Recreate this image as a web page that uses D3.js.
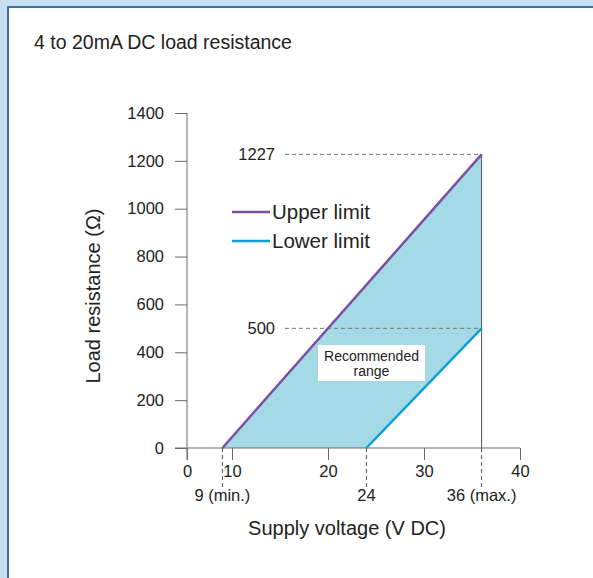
<!DOCTYPE html>
<html>
<head>
<meta charset="utf-8">
<script src="https://cdn.jsdelivr.net/npm/d3@7"></script>
<style>
  body { margin: 0; background: #c7def2; }
  svg { display: block; font-family: "Liberation Sans", Arial, sans-serif; }
</style>
</head>
<body>
<div id="chart"></div>
<script>
// data
const xTicks = [0, 10, 20, 30, 40];
const yTicks = [0, 200, 400, 600, 800, 1000, 1200, 1400];
const markVolts = [9, 24, 36];
const markLabels = ['9 (min.)', '24', '36 (max.)'];
const upperLimit = [[9, 0], [36, 1227]];
const lowerLimit = [[24, 0], [36, 500]];
const refValues = [1227, 500];
const seriesNames = ['Upper limit', 'Lower limit'];
const seriesColors = ['#7d4fa2', '#0b9fd8'];

const W = 593, H = 578;
const svg = d3.select('#chart').append('svg').attr('width', W).attr('height', H);

// panel
svg.append('rect').attr('x', 0).attr('y', 0).attr('width', W).attr('height', H).attr('fill', '#c8dff2');
svg.append('rect').attr('x', 7).attr('y', 6).attr('width', W).attr('height', H).attr('fill', '#3e6f9f');
svg.append('rect').attr('x', 9).attr('y', 8).attr('width', W).attr('height', H).attr('fill', '#fff');

svg.append('text').attr('x', 34).attr('y', 49).text('4 to 20mA DC load resistance')
  .style('font-size', '19.5px').attr('fill', '#222');

// x axis is squeezed between 0 and 9
const x = d3.scaleLinear().domain([0, 9, 40]).range([187, 222.4, 520]);
const y = d3.scaleLinear().domain([0, 1400]).range([448, 113]);
const axisColor = '#6a6a6a';
const tickFont = '16.5px';

const g = svg.append('g');

// fill between limits
const area = [upperLimit[0], upperLimit[1], lowerLimit[1], lowerLimit[0]];
g.append('path')
  .attr('d', d3.line().x(d => x(d[0])).y(d => y(d[1]))(area) + 'Z')
  .attr('fill', '#a3dae5');

// reference dashed lines
refValues.forEach(v => {
  g.append('line').attr('x1', 285).attr('x2', x(36)).attr('y1', y(v)).attr('y2', y(v))
    .attr('stroke', '#777').attr('stroke-width', 1).attr('stroke-dasharray', '4,3');
  g.append('text').attr('x', 275).attr('y', y(v) + 5.5).attr('text-anchor', 'end')
    .text(v).style('font-size', tickFont).attr('fill', '#222');
});

// vertical at 36
g.append('line').attr('x1', x(36)).attr('x2', x(36)).attr('y1', y(1227)).attr('y2', y(0))
  .attr('stroke', '#555').attr('stroke-width', 1);

// y axis
const yAxis = g.append('g').attr('transform', 'translate(187,0)')
  .call(d3.axisLeft(y).tickValues(yTicks).tickSize(12).tickPadding(11).tickFormat(d3.format('d')));
yAxis.select('.domain').remove();
yAxis.append('line').attr('x1', 0).attr('x2', 0).attr('y1', y(1400)).attr('y2', y(0) + 12)
  .attr('stroke', axisColor);

// x axis
const xAxis = g.append('g').attr('transform', 'translate(0,448)')
  .call(d3.axisBottom(x).tickValues(xTicks).tickSize(12).tickPadding(5).tickFormat(d3.format('d')));
xAxis.select('.domain').remove();
xAxis.append('line').attr('x1', 175).attr('x2', x(40)).attr('y1', 0).attr('y2', 0).attr('stroke', axisColor);

[yAxis, xAxis].forEach(a => {
  a.attr('font-size', null).attr('font-family', null);
  a.selectAll('.tick line').attr('stroke', axisColor);
  a.selectAll('.tick text').style('font-size', tickFont).attr('fill', '#222');
});

// marker dashes below the axis
markVolts.forEach((v, i) => {
  g.append('line').attr('x1', x(v)).attr('x2', x(v)).attr('y1', y(0)).attr('y2', 487)
    .attr('stroke', '#555').attr('stroke-dasharray', '4,3');
  g.append('text').attr('x', x(v)).attr('y', 501).attr('text-anchor', 'middle')
    .text(markLabels[i]).style('font-size', tickFont).attr('fill', '#222');
});

// limit lines
const line = d3.line().x(d => x(d[0])).y(d => y(d[1]));
[upperLimit, lowerLimit].forEach((s, i) => {
  g.append('path').attr('d', line(s)).attr('fill', 'none')
    .attr('stroke', seriesColors[i]).attr('stroke-width', 2.5);
});

// legend
seriesNames.forEach((n, i) => {
  const ly = 212 + i * 29;
  g.append('line').attr('x1', 232).attr('x2', 270).attr('y1', ly).attr('y2', ly)
    .attr('stroke', seriesColors[i]).attr('stroke-width', 2.5);
  g.append('text').attr('x', 272).attr('y', ly + 7).text(n)
    .style('font-size', '20.5px').attr('fill', '#222');
});

// recommended range label
g.append('rect').attr('x', 318).attr('y', 345).attr('width', 107).attr('height', 36).attr('fill', '#fff');
g.append('text').attr('x', 371.5).attr('y', 361).attr('text-anchor', 'middle')
  .text('Recommended').style('font-size', '14px').attr('fill', '#222');
g.append('text').attr('x', 371.5).attr('y', 376).attr('text-anchor', 'middle')
  .text('range').style('font-size', '14px').attr('fill', '#222');

// axis titles
svg.append('text').attr('transform', 'translate(100,296) rotate(-90)').attr('text-anchor', 'middle')
  .text('Load resistance (Ω)').style('font-size', '20px').attr('fill', '#222');
svg.append('text').attr('x', 347).attr('y', 535).attr('text-anchor', 'middle')
  .text('Supply voltage (V DC)').style('font-size', '20px').attr('fill', '#222');
</script>
</body>
</html>
